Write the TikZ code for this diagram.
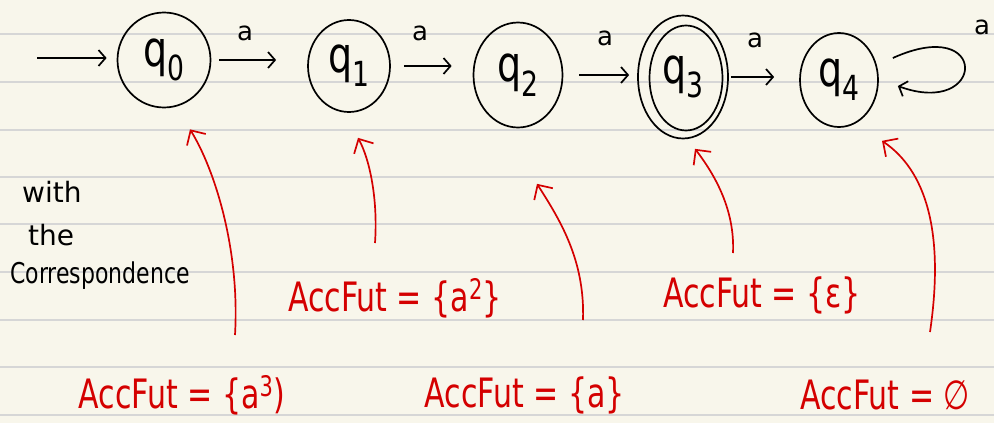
\documentclass[tikz,border=0pt]{standalone}
\usepackage{fontspec}
\setmainfont{DejaVu Sans}
\usetikzlibrary{arrows.meta,shapes.geometric,calc}
\definecolor{paper}{HTML}{F8F6EB}
\definecolor{rulegray}{HTML}{D6D6D6}
\definecolor{ink}{HTML}{D40000}
\newcommand\qlab[1]{\scalebox{1}[1.3]{q\textsubscript{#1}}}
\newcommand\tall[1]{\scalebox{1}[1.35]{#1}}
\tikzset{
  stnode/.style={ellipse, draw=black, line width=1.7pt, inner sep=0pt, font=\fontsize{38}{38}\selectfont},
  trans/.style={draw=black, line width=1.7pt, -{Straight Barb[length=7pt,width=16pt]}},
  lab/.style={font=\fontsize{26}{26}\selectfont, inner sep=0pt},
  corr/.style={draw=ink, line width=1.7pt, -{Straight Barb[length=11pt,width=22pt]}},
  redtxt/.style={text=ink, font=\fontsize{30}{30}\selectfont, inner sep=0pt},
  blacktxt/.style={font=\fontsize{22}{22}\selectfont, inner sep=0pt, anchor=west}
}
\begin{document}
\begin{tikzpicture}[x=1pt,y=-1pt]
\useasboundingbox (0,0) rectangle (994,423);
\clip (0,0) rectangle (994,423);
\fill[paper] (0,0) rectangle (994,423);
\foreach \yy in {34,82,130,177,224,272,320,367,415}
  \draw[rulegray, line width=1.6pt] (0,\yy) -- (994,\yy);

% states
\node[stnode, minimum width=93pt, minimum height=95pt] (q0) at (164,60) {\qlab{0}};
\node[stnode, minimum width=82pt, minimum height=92pt] (q1) at (349,66) {\qlab{1}};
\node[stnode, minimum width=89pt, minimum height=105pt] (q2) at (518,75) {\qlab{2}};
\node[stnode, minimum width=90pt, minimum height=123pt] (q3) at (683,77) {\qlab{3}};
\node[stnode, minimum width=73pt, minimum height=105pt] (q3in) at (686,78) {};
\node[stnode, minimum width=78pt, minimum height=94pt] (q4) at (839,80) {\qlab{4}};

% transitions
\coordinate (init) at (37,58);
\draw[trans, shorten >=10pt] (init) -- (init -| q0.west);
\draw[trans, shorten <=8pt, shorten >=31pt] (q0.east) -- (q0.east -| q1.west);
\draw[trans, shorten <=13pt, shorten >=21pt] (q1.east) -- (q1.east -| q2.west);
\draw[trans, shorten <=16pt, shorten >=8pt] (q2.east) -- (q2.east -| q3.west);
\draw[trans, shorten <=2pt, shorten >=25pt] (q3.east) -- (q3.east -| q4.west);
\draw[trans] ($(q4.east)+(14,-22)$) .. controls (990,14) and (986,118) .. ($(q4.east)+(19,6)$);

\node[lab] (a1) at (245,33) {a};
\node[lab] (a2) at (420,33) {a};
\node[lab] (a3) at (605,38) {a};
\node[lab] (a4) at (755,40) {a};
\node[lab] (a5) at (982,27) {a};

% correspondence arrows
\coordinate (t0) at (235,335);
\coordinate (t1) at (375,243);
\coordinate (t2) at (583,320);
\coordinate (t3) at (733,253);
\coordinate (t4) at (930,332);
\draw[corr] (t0) .. controls (240,250) and (215,170) .. ($(q0.south)+(26,21)$);
\draw[corr] (t1) .. controls (378,200) and (370,160) .. ($(q1.south)+(9,25)$);
\draw[corr] (t2) .. controls (585,260) and (560,220) .. ($(q2.south)+(19,55.5)$);
\draw[corr] (t3) .. controls (735,210) and (715,175) .. ($(q3.south)+(12,9.5)$);
\draw[corr] (t4) .. controls (945,230) and (925,170) .. ($(q4.south)+(43,13)$);

% texts
\node[blacktxt, font=\fontsize{28}{28}\selectfont] (w1) at (22,192) {with};
\node[blacktxt, font=\fontsize{28}{28}\selectfont] (w2) at (28,235) {the};
\node[blacktxt] (w3) at (10,276) {\scalebox{1}[1.3]{Correspondence}};

\node[redtxt] (f2) at (395,298) {\tall{AccFut = \{a\textsuperscript{2}\}}};
\node[redtxt] (f3) at (762,295) {\tall{AccFut = \{ε\}}};
\node[redtxt] (f0) at (182,395) {\tall{AccFut = \{a\textsuperscript{3})}};
\node[redtxt] (f1) at (525,395) {\tall{AccFut = \{a\}}};
\node[redtxt] (f4) at (885,395) {\tall{AccFut = ∅}};
\end{tikzpicture}
\end{document}
